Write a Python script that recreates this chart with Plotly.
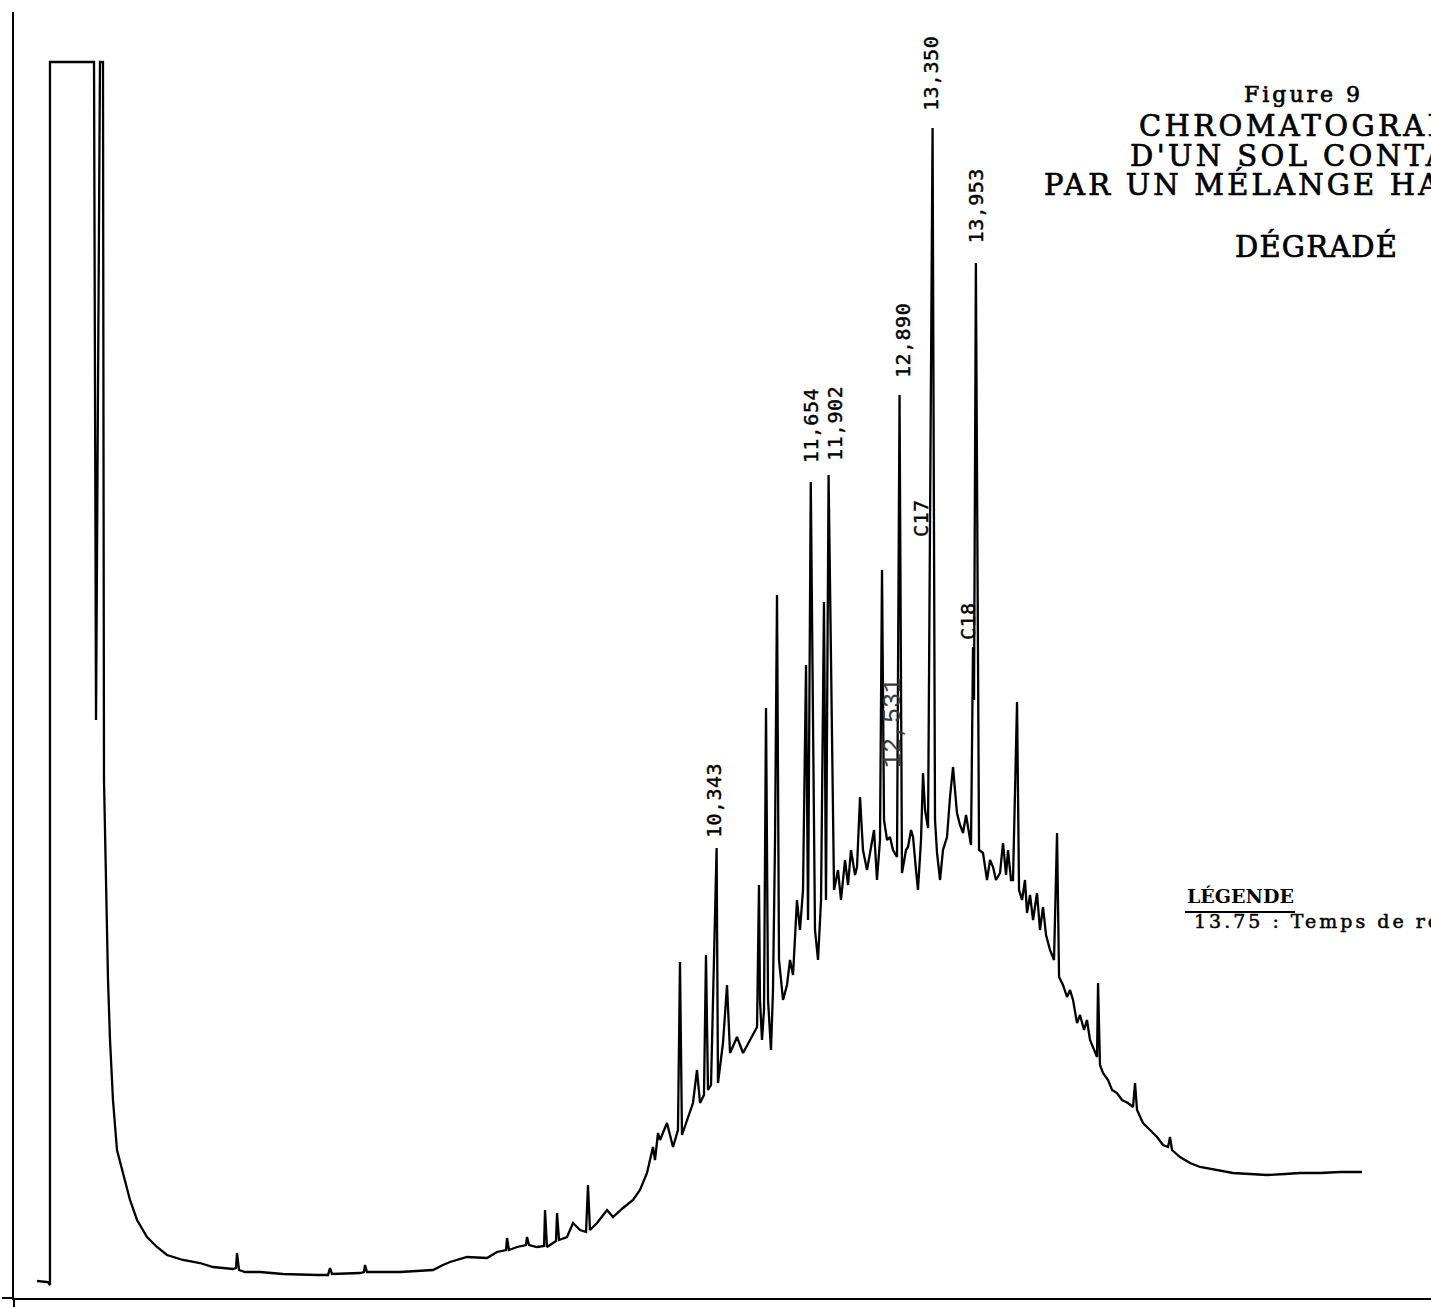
import plotly.graph_objects as go

# Retention time (min) and detector response of the soil extract trace
retention_time = [
    0.880, 1.033, 1.061, 1.061, 1.674, 1.702, 1.757, 1.799, 1.813, 1.841,
    1.869, 1.897, 1.938, 1.994, 2.064, 2.175, 2.273, 2.412, 2.551, 2.690,
    2.913, 3.150, 3.331, 3.609, 3.651, 3.665, 3.693, 3.776, 3.985, 4.305,
    4.779, 4.932, 4.960, 4.988, 5.378, 5.433, 5.447, 5.475, 5.935, 6.394,
    6.533, 6.631, 6.868, 7.146, 7.285, 7.411, 7.425, 7.452, 7.564, 7.689,
    7.703, 7.731, 7.842, 7.940, 7.954, 7.981, 8.107, 8.121, 8.149, 8.260,
    8.344, 8.441, 8.525, 8.552, 8.580, 8.678, 8.817, 8.900, 9.040, 9.179,
    9.276, 9.374, 9.457, 9.485, 9.527, 9.555, 9.652, 9.736, 9.805, 9.833,
    9.861, 9.931, 10.014, 10.070, 10.112, 10.167, 10.195, 10.223, 10.265, 10.343,
    10.362, 10.432, 10.488, 10.530, 10.627, 10.711, 10.808, 10.906, 10.933, 10.947,
    10.975, 11.003, 11.031, 11.059, 11.100, 11.128, 11.156, 11.184, 11.212, 11.268,
    11.323, 11.365, 11.407, 11.462, 11.504, 11.546, 11.588, 11.616, 11.654, 11.713,
    11.755, 11.797, 11.838, 11.866, 11.902, 11.978, 12.033, 12.075, 12.131, 12.173,
    12.214, 12.270, 12.298, 12.340, 12.381, 12.437, 12.479, 12.535, 12.576, 12.618,
    12.646, 12.674, 12.716, 12.757, 12.799, 12.855, 12.890, 12.924, 12.980, 13.008,
    13.050, 13.078, 13.119, 13.147, 13.189, 13.217, 13.245, 13.287, 13.350, 13.384,
    13.412, 13.454, 13.495, 13.551, 13.593, 13.635, 13.662, 13.690, 13.732, 13.774,
    13.816, 13.885, 13.913, 13.927, 13.953, 13.997, 14.052, 14.108, 14.150, 14.192,
    14.233, 14.289, 14.331, 14.373, 14.401, 14.442, 14.470, 14.526, 14.554, 14.596,
    14.637, 14.665, 14.707, 14.749, 14.804, 14.846, 14.888, 14.930, 14.985, 15.041,
    15.083, 15.111, 15.166, 15.222, 15.264, 15.306, 15.361, 15.403, 15.459, 15.500,
    15.542, 15.598, 15.640, 15.654, 15.681, 15.723, 15.793, 15.849, 15.918, 15.988,
    16.071, 16.141, 16.169, 16.197, 16.280, 16.378, 16.475, 16.559, 16.629, 16.656,
    16.684, 16.795, 16.935, 17.074, 17.283, 17.533, 17.770, 18.007, 18.257, 18.466,
    18.745, 19.023, 19.329,
]

signal = [
    17, 16, 13, 1236, 1236, 578, 1236, 1236, 518, 398,
    318, 258, 198, 148, 128, 98, 78, 61, 51, 43,
    38, 35, 31, 29, 30, 45, 28, 26, 26, 24,
    23, 23, 30, 24, 25, 26, 33, 26, 26, 28,
    33, 36, 41, 40, 46, 48, 60, 48, 51, 53,
    61, 53, 51, 52, 88, 51, 57, 85, 58, 61,
    75, 68, 66, 113, 68, 75, 88, 81, 90, 98,
    108, 125, 151, 138, 165, 158, 175, 151, 168, 336,
    163, 178, 195, 228, 195, 203, 343, 208, 213, 450,
    215, 255, 313, 245, 261, 245, 258, 271, 413, 298,
    258, 288, 590, 298, 248, 308, 455, 703, 338, 298,
    313, 338, 323, 398, 368, 408, 633, 378, 816, 368,
    338, 398, 696, 398, 823, 408, 428, 398, 438, 413,
    448, 423, 431, 501, 448, 428, 445, 468, 418, 458,
    728, 478, 458, 461, 448, 441, 903, 425, 448, 451,
    468, 461, 428, 408, 458, 525, 488, 470, 1170, 478,
    445, 418, 448, 461, 501, 531, 508, 485, 473, 465,
    483, 453, 651, 598, 1035, 448, 445, 418, 438, 431,
    418, 425, 455, 423, 448, 418, 418, 596, 408, 398,
    418, 385, 403, 378, 405, 368, 391, 363, 348, 338,
    465, 321, 313, 301, 308, 298, 275, 283, 268, 278,
    258, 248, 241, 315, 233, 225, 218, 208, 205, 198,
    195, 191, 215, 188, 175, 168, 161, 153, 151, 161,
    148, 141, 135, 131, 128, 125, 124, 123, 124, 125,
    125, 126, 126,
]

# Identified peaks (retention time, printed label)
peak_times = [10.343, 11.654, 11.902, 12.890, 13.350, 13.953]
peak_labels = ["10,343", "11,654", "11,902", "12,890", "13,350", "13,953"]

# Alkane markers written next to the trace
marker_labels = ["C17", "C18"]
marker_times = [13.189, 13.843]
marker_levels = [780, 677]

# Faint retention time printed over the hump
faint_label = "12,531"
faint_time = 12.799
faint_level = 575

title_lines = [
    "Figure 9",
    "CHROMATOGRAMME",
    "D'UN SOL CONTAMINÉ",
    "PAR UN MÉLANGE HAUTEMENT",
    "DÉGRADÉ",
]
legend_title = "LÉGENDE"
legend_entry = "13.75 : Temps de rétention (min)"

W, H = 1431, 1307
ML, MR, MT, MB = 14, 0, 12, 9
X_RANGE = [0.560, 20.290]
Y_RANGE = [0, 1286]


def px(x):
    return (x - ML) / (W - ML - MR)


def py(y):
    return (H - MB - y) / (H - MT - MB)


def inked(text, spacing=0.0, stroke=0.0):
    """Wrap text in a span giving letter spacing and a thin outline stroke."""
    style = f"letter-spacing:{spacing}px"
    if stroke:
        style += f";stroke:black;stroke-width:{stroke}px"
    return f'<span style="{style}">{text}</span>'


fig = go.Figure()
fig.add_trace(go.Scatter(
    x=retention_time, y=signal, mode="lines",
    line=dict(color="black", width=2.3),
    hoverinfo="skip", showlegend=False,
))

annotations = []

# Peak retention times, written vertically above each peak
label_gap = [8, 17, 12, 15, 15, 18]
label_dx = [-3, 0, 6, 3, -2, 0]
for t, lab, gap, dx in zip(peak_times, peak_labels, label_gap, label_dx):
    top = signal[retention_time.index(t)]
    annotations.append(dict(
        x=t, y=top, xref="x", yref="y", text=inked(lab, 0.5, 0.4),
        textangle=-90, xanchor="center", yanchor="bottom",
        yshift=gap, xshift=dx, showarrow=False,
        font=dict(family="DejaVu Sans Mono", size=20, color="black"),
    ))

for t, lev, lab in zip(marker_times, marker_levels, marker_labels):
    annotations.append(dict(
        x=t, y=lev, xref="x", yref="y", text=inked(lab, 0.5, 0.4),
        textangle=-90, xanchor="center", yanchor="middle", showarrow=False,
        font=dict(family="DejaVu Sans Mono", size=20, color="black"),
    ))

annotations.append(dict(
    x=faint_time, y=faint_level, xref="x", yref="y", text=faint_label,
    textangle=-90, xanchor="center", yanchor="middle", showarrow=False,
    font=dict(family="Liberation Mono", size=25, color="#3a3a3a"),
))

# Title block (runs past the right edge of the sheet)
title_specs = [
    (1242, 94, 22, 3.0),
    (1137, 126, 29, 3.4),
    (1128, 155, 29, 3.4),
    (1042, 185, 29, 3.2),
    (1233, 247, 29, 1.2),
]
for line, (x0, yc, size, ls) in zip(title_lines, title_specs):
    annotations.append(dict(
        x=px(x0), y=py(yc), xref="paper", yref="paper",
        text=inked(line, ls, 0.7),
        xanchor="left", yanchor="middle", showarrow=False,
        font=dict(family="DejaVu Serif", size=size, color="black"),
    ))

annotations.append(dict(
    x=px(1185), y=py(896), xref="paper", yref="paper",
    text=f"<b>{legend_title}</b>", xanchor="left", yanchor="middle",
    showarrow=False,
    font=dict(family="DejaVu Serif", size=19, color="black"),
))
annotations.append(dict(
    x=px(1192), y=py(921), xref="paper", yref="paper",
    text=inked(legend_entry, 3.0, 0.5),
    xanchor="left", yanchor="middle", showarrow=False,
    font=dict(family="DejaVu Serif", size=19, color="black"),
))

shapes = [
    # legend underline
    dict(type="line", xref="paper", yref="paper",
         x0=px(1185), x1=px(1295), y0=py(912), y1=py(912),
         line=dict(color="black", width=2)),
    # axis stubs past the origin
    dict(type="line", xref="paper", yref="paper",
         x0=px(2), x1=px(14), y0=0, y1=0,
         line=dict(color="black", width=2)),
    dict(type="line", xref="paper", yref="paper",
         x0=0, x1=0, y0=0, y1=py(1307),
         line=dict(color="black", width=2)),
]

axis_style = dict(
    showgrid=False, zeroline=False, showticklabels=False, ticks="",
    showline=True, linecolor="black", linewidth=2, fixedrange=True,
)

fig.update_layout(
    width=W, height=H,
    margin=dict(l=ML, r=MR, t=MT, b=MB, pad=0),
    paper_bgcolor="white", plot_bgcolor="white",
    xaxis=dict(range=X_RANGE, **axis_style),
    yaxis=dict(range=Y_RANGE, **axis_style),
    annotations=annotations,
    shapes=shapes,
    showlegend=False,
)

fig.write_html("out.html")
